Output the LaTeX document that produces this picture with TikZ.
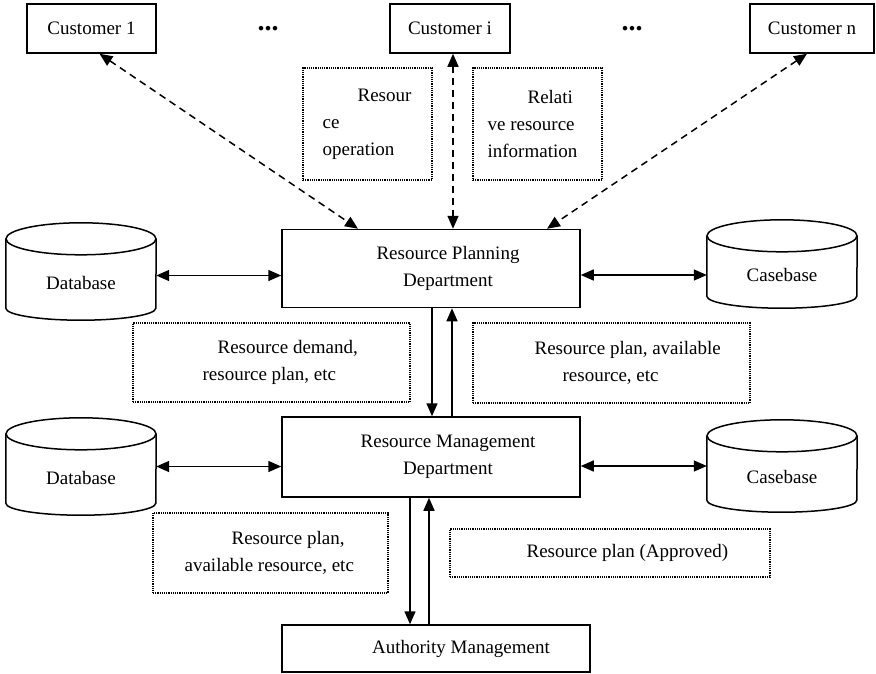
\documentclass[tikz,border=0pt]{standalone}
\usepackage{fontspec}
\setmainfont{Liberation Serif}
\usetikzlibrary{arrows.meta}

\tikzset{
  dept/.style={draw, line width=1.5pt, minimum width=298, minimum height=78},
  deptlabel/.style={align=center, xshift=17pt},
  cust/.style={draw, line width=1.5pt, minimum height=49},
  store/.style={inner sep=0pt, minimum width=150},
  storelabel/.style={yshift=-11pt},
  note/.style={draw, densely dotted, line width=1.2pt},
  notetext/.style={align=left, inner sep=0pt},
  link/.style={<->, line width=1.5pt, dash pattern=on 7pt off 5pt},
  flow/.style={line width=1.5pt},
}

\begin{document}
\begin{tikzpicture}[x=1pt, y=-1pt, >={Triangle[length=13pt,width=11pt]},
  every node/.style={font=\fontsize{19}{27}\selectfont}]
\useasboundingbox (0,0) rectangle (876,673);

% customers
\foreach \t/\x/\w [count=\n] in {1/91.5/129, i/450/120, n/812/124} {
  \node[cust, minimum width=\w] (c\n) at (\x,28.5) {Customer \t};
}
\node[font=\fontsize{28}{30}\selectfont\bfseries] (dots1) at (268,29) {...};
\node[font=\fontsize{28}{30}\selectfont\bfseries] (dots2) at (632,29) {...};

% departments
\node[dept, label={[deptlabel]center:Resource Planning\\Department}] (rpd) at (431,268.5) {};
\node[dept, minimum height=80, label={[deptlabel]center:Resource Management\\Department}] (rmd) at (431,457) {};
\node[dept, minimum width=308, minimum height=47, label={[deptlabel, xshift=8pt]center:Authority Management}] (auth) at (436,648.5) {};

% stores
\node[store, minimum height=97, label={[storelabel]center:Database}] (db1) at (81,271.5) {};
\node[store, minimum height=88, label={[storelabel]center:Casebase}] (cb1) at (782,264) {};
\node[store, minimum height=97, label={[storelabel]center:Database}] (db2) at (81,466.5) {};
\node[store, minimum height=92, label={[storelabel]center:Casebase}] (cb2) at (782,466) {};
\foreach \s in {db1,cb1,db2,cb2} {
  \draw[flow] ([yshift=-16]\s.north) ellipse [x radius=75, y radius=16];
  \draw[flow] ([yshift=-16]\s.north west) -- ([yshift=12]\s.south west)
    arc[start angle=180, end angle=0, x radius=75, y radius=12] -- ([yshift=-16]\s.north east);
}

% dotted notes
\node[note, minimum width=129, minimum height=112] (op) at (367.5,124) {};
\node[notetext, anchor=west] (optxt) at ([xshift=20]op.west) {\hspace*{35pt}Resour\\ce\\operation};
\node[note, minimum width=129, minimum height=112] (rel) at (537.5,124) {};
\node[notetext, anchor=west] (reltxt) at ([xshift=15]rel.west) {\hspace*{40pt}Relati\\ve resource\\information};
\node[note, minimum width=277, minimum height=79] (dem) at (271.5,362.5) {};
\node[notetext, anchor=west] (demtxt) at ([xshift=70]dem.west) {\hspace*{15pt}Resource demand,\\resource plan, etc};
\node[note, minimum width=277, minimum height=80] (avl) at (611.5,363) {};
\node[notetext, anchor=west] (avltxt) at ([xshift=62]avl.west) {Resource plan, available\\\hspace*{28pt}resource, etc};
\node[note, minimum width=235, minimum height=80] (plan) at (270.5,553) {};
\node[notetext, anchor=west] (plantxt) at ([xshift=32]plan.west) {\hspace*{47pt}Resource plan,\\available resource, etc};
\node[note, minimum width=320, minimum height=48] (appr) at (610,553) {};
\node[notetext, anchor=west] (apprtxt) at ([xshift=77]appr.west) {Resource plan (Approved)};

% customers to planning
\draw[link] ([xshift=8]c1.south) -- ([xshift=-73]rpd.north);
\draw[link] ([xshift=3]c2.south) -- ([xshift=3]c2.south |- rpd.north);
\draw[link] ([xshift=-5]c3.south) -- ([xshift=116]rpd.north);

% stores to departments
\draw[flow, <->] ([yshift=-4]db1.east) -- ([yshift=-4]db1.east -| rpd.west);
\draw[flow, <->] ([yshift=-6.5]rpd.east) -- ([yshift=-6.5]rpd.east -| cb1.west);
\draw[flow, <->] (db2.east) -- (db2.east -| rmd.west);
\draw[flow, <->] (rmd.east |- cb2.west) -- (cb2.west);

% between departments
\draw[flow, ->] ([xshift=1]rpd.south) -- ([xshift=1]rpd.south |- rmd.north);
\draw[flow, ->] ([xshift=21]rmd.north) -- ([xshift=21]rmd.north |- rpd.south);
\draw[flow, ->] ([xshift=-21]rmd.south) -- ([xshift=-21]rmd.south |- auth.north);
\draw[flow, ->] ([xshift=-2]rmd.south |- auth.north) -- ([xshift=-2]rmd.south);
\end{tikzpicture}
\end{document}
